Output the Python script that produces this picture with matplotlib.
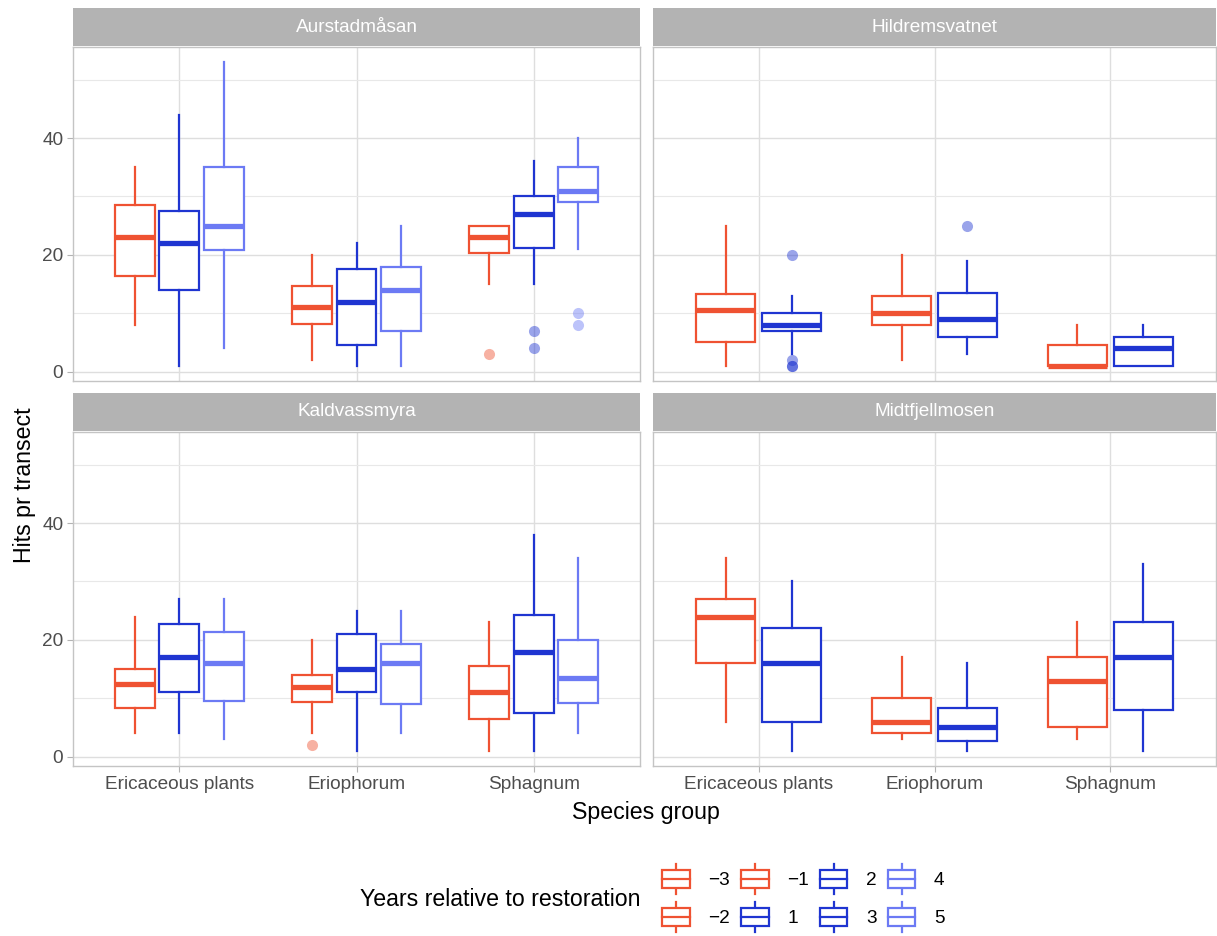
import matplotlib
matplotlib.use("Agg")
from matplotlib import pyplot as plt
from matplotlib.patches import Patch, Rectangle
from matplotlib.lines import Line2D
from matplotlib.legend_handler import HandlerBase

plt.rcParams['font.family'] = ['Liberation Sans', 'DejaVu Sans']

# Data: [low whisker, Q1, median, Q3, high whisker] per species group
species = ["Ericaceous plants", "Eriophorum", "Sphagnum"]
sites = ["Aurstadmåsan", "Hildremsvatnet", "Kaldvassmyra", "Midtfjellmosen"]

aur_before = [[8, 16.4, 23, 28.6, 35], [2, 8.2, 11, 14.7, 20], [15, 20.3, 23, 25, 25]]
aur_early = [[1, 14, 22, 27.5, 44], [1, 4.5, 12, 17.5, 22], [15, 21.2, 27, 30, 36]]
aur_late = [[4, 20.9, 25, 35, 53], [1, 7, 14, 18, 25], [21, 29, 31, 35, 40]]
aur_out_before = [[], [], [3]]
aur_out_early = [[], [], [7, 4]]
aur_out_late = [[], [], [10, 8]]

hil_before = [[1, 5, 10.6, 13.3, 25], [2, 8, 10, 13, 20], [1, 1, 1, 4.5, 8]]
hil_early = [[3, 7, 8, 10, 13], [3, 6, 9, 13.5, 19], [1, 1, 4, 6, 8]]
hil_out_before = [[], [], []]
hil_out_early = [[20, 2, 1, 1], [25], []]

kal_before = [[4, 8.3, 12.5, 15, 24], [4, 9.4, 12, 14, 20], [1, 6.5, 11, 15.5, 23]]
kal_early = [[4, 11, 17, 22.8, 27], [1, 11, 15, 21, 25], [1, 7.4, 18, 24.3, 38]]
kal_late = [[3, 9.5, 16, 21.3, 27], [4, 9, 16, 19.3, 25], [4, 9.2, 13.5, 20, 34]]
kal_out_before = [[], [2], []]
kal_out_early = [[], [], []]
kal_out_late = [[], [], []]

mid_before = [[6, 16, 24, 27, 34], [3, 4, 6, 10, 17], [3, 5, 13, 17, 23]]
mid_early = [[1, 6, 16, 22, 30], [1, 2.7, 5, 8.3, 16], [1, 8, 17, 23, 33]]
mid_out_before = [[], [], []]
mid_out_early = [[], [], []]

years = [-3, -2, -1, 1, 2, 3, 4, 5]
red, dark_blue, light_blue = '#EF5232', '#1F35D1', '#6C7AF4'

panels = {
    "Aurstadmåsan": [(aur_before, aur_out_before, red), (aur_early, aur_out_early, dark_blue),
                     (aur_late, aur_out_late, light_blue)],
    "Hildremsvatnet": [(hil_before, hil_out_before, red), (hil_early, hil_out_early, dark_blue)],
    "Kaldvassmyra": [(kal_before, kal_out_before, red), (kal_early, kal_out_early, dark_blue),
                     (kal_late, kal_out_late, light_blue)],
    "Midtfjellmosen": [(mid_before, mid_out_before, red), (mid_early, mid_out_early, dark_blue)],
}

W, H = 1217, 936


def frac(l, t, r, b):
    return [l / W, 1 - b / H, (r - l) / W, (b - t) / H]


class BoxKey(HandlerBase):
    """Draw a little boxplot glyph as legend key."""
    def create_artists(self, legend, orig_handle, xdescent, ydescent, width, height, fontsize, trans):
        c = orig_handle.get_edgecolor()
        x0, y0 = -xdescent, -ydescent
        xm = x0 + width / 2
        rect = Rectangle((x0 + 0.1 * width, y0 + 0.2 * height), 0.8 * width, 0.6 * height,
                         facecolor='white', edgecolor=c, lw=1.6, transform=trans)
        med = Line2D([x0 + 0.1 * width, x0 + 0.9 * width], [y0 + 0.5 * height] * 2, color=c, lw=1.6, transform=trans)
        lo = Line2D([xm, xm], [y0, y0 + 0.2 * height], color=c, lw=1.6, transform=trans)
        hi = Line2D([xm, xm], [y0 + 0.8 * height, y0 + height], color=c, lw=1.6, transform=trans)
        return [lo, hi, rect, med]


fig = plt.figure(figsize=(W / 100, H / 100), dpi=100)
fig.patch.set_facecolor('white')

layout = {
    "Aurstadmåsan": (73, 47, 640, 381, 8),
    "Hildremsvatnet": (653, 47, 1216, 381, 8),
    "Kaldvassmyra": (73, 432, 640, 766, 393),
    "Midtfjellmosen": (653, 432, 1216, 766, 393),
}

for site in sites:
    l, t, r, b, st = layout[site]
    ax = fig.add_axes(frac(l, t, r, b))
    groups = panels[site]
    n = len(groups)
    slot = 0.75 / n
    for j, (summ, outs, c) in enumerate(groups):
        stats = []
        for i in range(len(species)):
            lo, q1, med, q3, hi = summ[i]
            stats.append(dict(whislo=lo, q1=q1, med=med, q3=q3, whishi=hi, fliers=outs[i]))
        pos = [i - 0.375 + slot * (j + 0.5) for i in range(len(species))]
        ax.bxp(stats, positions=pos, widths=0.9 * slot, showcaps=False, patch_artist=True,
               boxprops=dict(facecolor='white', edgecolor=c, linewidth=1.6),
               medianprops=dict(color=c, linewidth=3.8, solid_capstyle='butt'),
               whiskerprops=dict(color=c, linewidth=1.6),
               flierprops=dict(marker='o', markerfacecolor=c, markeredgecolor='none',
                               markersize=8, alpha=0.45),
               zorder=3)

    ax.set_xlim(-0.6, 2.6)
    ax.set_ylim(-1.6, 55.6)
    ax.set_yticks([0, 20, 40])
    ax.set_yticks([10, 30, 50], minor=True)
    ax.set_xticks(range(len(species)))
    ax.grid(True, which='major', color='#DEDEDE', lw=1.0, zorder=0)
    ax.grid(True, which='minor', axis='y', color='#E8E8E8', lw=0.8, zorder=0)
    ax.set_axisbelow(True)
    for s in ax.spines.values():
        s.set_color('#C4C4C4')
        s.set_linewidth(1.0)
    ax.tick_params(which='minor', length=0)
    ax.tick_params(which='major', length=4, color='#B3B3B3', width=0.8, labelsize=13.7,
                   labelcolor='#4D4D4D', pad=3)
    if l < 100:
        ax.set_yticklabels(['0', '20', '40'])
    else:
        ax.tick_params(axis='y', length=0, labelleft=False)
    if t > 400:
        ax.set_xticklabels(species)
    else:
        ax.tick_params(axis='x', length=0, labelbottom=False)

    sax = fig.add_axes(frac(l, st, r, t - 1))
    sax.set_facecolor('#B3B3B3')
    sax.set_xticks([])
    sax.set_yticks([])
    for s in sax.spines.values():
        s.set_visible(False)
    sax.text(0.5, 0.5, site, color='white', fontsize=13.7, ha='center', va='center', transform=sax.transAxes)

fig.text(25 / W, 1 - 485 / H, "Hits pr transect", rotation=90, ha='center', va='center', fontsize=16.7)
fig.text(646 / W, 1 - 812 / H, "Species group", ha='center', va='center', fontsize=16.7)
fig.text(640 / W, 1 - 900 / H, "Years relative to restoration", ha='right', va='center', fontsize=16.7)


def year_colour(y):
    if y < 0:
        return red
    if y <= 3:
        return dark_blue
    return light_blue


handles = [Patch(edgecolor=year_colour(y), facecolor='white') for y in years]
labels = [str(y).replace('-', '\u2212') for y in years]
fig.legend(handles, labels, ncol=4, loc='center left', bbox_to_anchor=(659 / W, 1 - 898 / H),
           handler_map={Patch: BoxKey()}, frameon=False, fontsize=13.7,
           handlelength=1.8, handleheight=2.1, handletextpad=0.8, columnspacing=0.4,
           labelspacing=0.4, borderpad=0, borderaxespad=0)

fig.savefig("out.png", dpi=100)
